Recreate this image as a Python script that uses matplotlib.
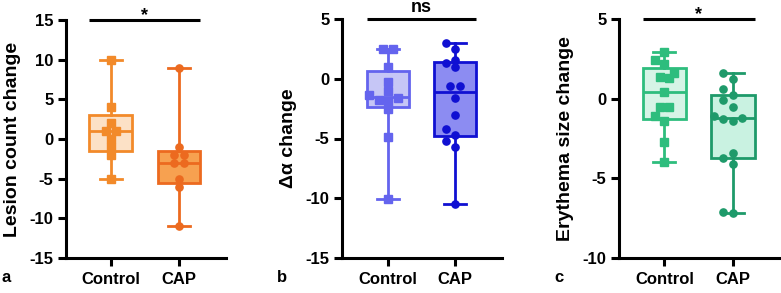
import numpy as np
import matplotlib
matplotlib.use("Agg")
import matplotlib.pyplot as plt

plt.rcParams['font.family'] = ['Liberation Sans', 'DejaVu Sans']
plt.rcParams['font.weight'] = 'bold'

# ---------------- data ----------------
groups = ["Control", "CAP"]

lesion_control = [10, 4, 2, 1, 1, 0, -1, -2, -5]
lesion_cap = [9, -1, -2, -2, -3, -3, -5, -6, -11]

alpha_control = [2.45, 2.45, 1.0, -0.25, -1.0, -1.4, -1.6, -1.8, -1.9, -2.5, -4.9, -10.1]
alpha_cap = [3.0, 2.5, 1.6, 1.3, 1.0, -0.6, -0.6, -1.6, -3.0, -4.2, -4.7, -5.2, -5.7, -10.5]

erythema_control = [2.9, 2.4, 2.2, 1.6, 1.35, 1.3, 0.4, -0.5, -0.5, -1.1, -1.4, -2.7, -4.0]
erythema_cap = [1.63, 1.25, 0.6, 0.2, -0.1, -0.5, -1.1, -1.23, -1.3, -1.4, -3.43, -3.75, -4.1, -7.1, -7.2]

ylabels = ["Lesion count change", "\u0394\u03b1 change", "Erythema size change"]
sig_labels = ["*", "ns", "*"]
panel_letters = ["a", "b", "c"]
yticks_list = [[-15, -10, -5, 0, 5, 10, 15], [-15, -10, -5, 0, 5], [-10, -5, 0, 5]]

# ---------------- styling ----------------
W, H = 781, 293
fig = plt.figure(figsize=(W / 100, H / 100), dpi=100)

panels = [
    dict(data=[lesion_control, lesion_cap], rect=(66, 20, 160, 238), xlim=(0.34, 2.69),
         edge=['#F28A2A', '#EC6A1F'], fill=['#FCE1C6', '#F7A150'], markers=['s', 'o'],
         letter_x=2),
    dict(data=[alpha_control, alpha_cap], rect=(342, 19, 160, 239), xlim=(0.313, 2.70),
         edge=['#6464EE', '#1010D2'], fill=['#C6C6F6', '#8C8CF2'], markers=['s', 'o'],
         letter_x=277),
    dict(data=[erythema_control, erythema_cap], rect=(619, 19, 162, 239), xlim=(0.338, 2.70),
         edge=['#2EBD7D', '#1E9A6A'], fill=['#D6F4E6', '#C9F2E1'], markers=['s', 'o'],
         letter_x=554),
]

LW = 2.0
box_w = 0.63
cap_w = 0.32


def swarm_offsets(vals, px_per_y, ms_px=6.5, step_px=9.5):
    vals = np.asarray(vals, float)
    order = np.argsort(vals)
    placed = []
    xs = np.zeros(len(vals))
    for idx in order:
        y = vals[idx] * px_per_y
        cands = [0]
        for j in range(1, 8):
            cands += [-j * step_px, j * step_px]
        for c in cands:
            ok = True
            for (px, py) in placed:
                if abs(py - y) < ms_px and abs(px - c) < step_px * 0.9:
                    ok = False
                    break
            if ok:
                xs[idx] = c
                placed.append((c, y))
                break
    ys = vals * px_per_y
    used = np.zeros(len(vals), bool)
    for i in order:
        if used[i]:
            continue
        row = [j for j in range(len(vals)) if not used[j] and abs(ys[j] - ys[i]) < 1.0]
        for j in row:
            used[j] = True
        if len(row) > 1:
            xs[row] -= np.mean(xs[row])
    return xs


for p_i, (p, ylab, sig, letter, yt) in enumerate(zip(panels, ylabels, sig_labels, panel_letters, yticks_list)):
    x0, ytop, w, h = p['rect']
    ax = fig.add_axes([x0 / W, (H - ytop - h) / H, w / W, h / H])
    ax.set_xlim(*p['xlim'])
    ax.set_ylim(yt[0], yt[-1])
    ax.set_yticks(yt)
    ax.set_yticklabels([str(t) for t in yt])
    ax.set_xticks([1, 2])
    ax.set_xticklabels(groups)
    for s in ['top', 'right']:
        ax.spines[s].set_visible(False)
    for s in ['left', 'bottom']:
        ax.spines[s].set_linewidth(2.2)
    ax.tick_params(axis='both', width=2.2, length=6, labelsize=12)
    ax.tick_params(axis='y', pad=3)
    ax.tick_params(axis='x', pad=4)
    ax.set_ylabel(ylab, fontsize=14, fontweight='bold')
    ax.yaxis.set_label_coords(-0.28, 0.5)

    px_per_y = h / (yt[-1] - yt[0])
    px_per_x = w / (p['xlim'][1] - p['xlim'][0])

    stats = []
    for d in p['data']:
        d = np.asarray(d, float)
        q1, med, q3 = np.percentile(d, [25, 50, 75], method='weibull')
        stats.append(dict(med=med, q1=q1, q3=q3, whislo=d.min(), whishi=d.max(), fliers=[]))

    for gi in range(2):
        ax.bxp([stats[gi]], positions=[gi + 1], widths=box_w, capwidths=cap_w,
               patch_artist=True, showfliers=False, manage_ticks=False,
               boxprops=dict(facecolor=p['fill'][gi], edgecolor=p['edge'][gi], linewidth=LW),
               medianprops=dict(color=p['edge'][gi], linewidth=LW),
               whiskerprops=dict(color=p['edge'][gi], linewidth=LW),
               capprops=dict(color=p['edge'][gi], linewidth=LW))
        d = np.asarray(p['data'][gi], float)
        offs = swarm_offsets(d, px_per_y) / px_per_x
        ax.plot(gi + 1 + offs, d, linestyle='none', marker=p['markers'][gi], ms=5.2,
                color=p['edge'][gi], mec=p['edge'][gi], zorder=4, clip_on=False)

    xl = 1 - box_w / 2
    xr = 2 + box_w / 2
    ytopv = yt[-1]
    ax.plot([xl, xr], [ytopv, ytopv], color='black', lw=2.2, clip_on=False,
            solid_capstyle='butt')
    if sig == '*':
        ax.annotate(sig, (1.5, ytopv), xytext=(0, 0), textcoords='offset points',
                    ha='center', va='baseline', fontsize=13, fontweight='bold')
    else:
        ax.annotate(sig, (1.5, ytopv), xytext=(0, 5), textcoords='offset points',
                    ha='center', va='baseline', fontsize=13, fontweight='bold')

    fig.text(p['letter_x'] / W, (H - 278) / H, letter, ha='left', va='center',
             fontsize=12, fontweight='bold')

fig.savefig("out.png", dpi=100)
